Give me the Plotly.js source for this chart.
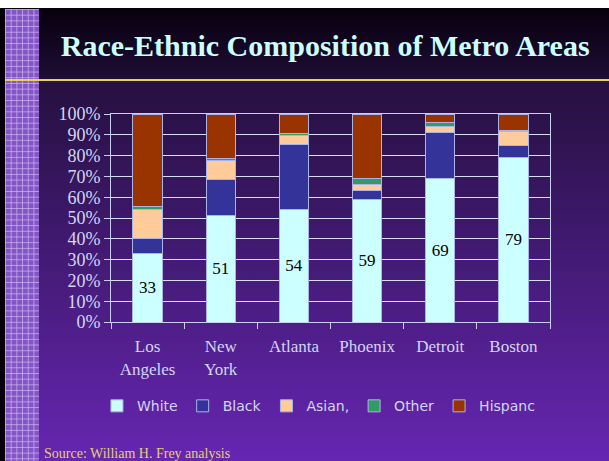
<!DOCTYPE html>
<html>
<head>
<meta charset="utf-8">
<script src="https://cdn.plot.ly/plotly-3.0.1.min.js"></script>
<style>
body { margin: 0; background: #fff; }
#slide { position: absolute; left: 0; top: 8px; width: 609px; height: 453px; background: #050008; }
#stripe { position: absolute; left: 5px; top: 9px; width: 34px; height: 452px;
  background-color: #8455c4;
  background-image: linear-gradient(to right, rgba(205,180,245,0.75) 1px, transparent 1px),
                    linear-gradient(to bottom, rgba(205,180,245,0.75) 1px, transparent 1px);
  background-size: 5.7px 5.7px; }
#head { position: absolute; left: 39px; top: 8px; width: 570px; height: 71px;
  background: linear-gradient(#07000d, #1f0d36); }
#rule { position: absolute; left: 5px; top: 79px; width: 604px; height: 1.5px; background: #e8d25a; }
#body { position: absolute; left: 39px; top: 81px; width: 570px; height: 380px;
  background: linear-gradient(#25103f, #6626b2); }
#chart { position: absolute; left: 0; top: 0; width: 609px; height: 461px; }
</style>
</head>
<body>
<div id="slide"></div>
<div id="head"></div>
<div id="body"></div>
<div id="stripe"></div>
<div id="rule"></div>
<div id="chart"></div>
<script>
// data (percent of metro population)
var cities = ['Los<br>Angeles', 'New<br>York', 'Atlanta', 'Phoenix', 'Detroit', 'Boston'];
var white = [33, 51, 54, 59, 69, 79];
var black = [7, 17.5, 31.5, 4, 22, 6];
var asian = [14, 9.3, 4, 3, 3, 6.5];
var other = [1.5, 0.8, 1, 3, 2, 0.7];
var hispanic = [44.5, 21.4, 9.5, 31, 4, 7.8];

var names = ['White', 'Black', 'Asian,', 'Other', 'Hispanc'];
var colors = ['#ccffff', '#333399', '#ffcc99', '#339966', '#993300'];
var series = [white, black, asian, other, hispanic];

var data = [];
series.forEach(function (vals, i) {
    var trace = {
        x: cities,
        y: vals,
        name: names[i],
        type: 'bar',
        marker: { color: colors[i], line: { color: '#aab4e6', width: 1 } },
        hoverinfo: 'none'
    };
    if (i === 0) {
        // white share printed inside the bar
        trace.text = vals;
        trace.texttemplate = '%{text}';
        trace.textposition = 'inside';
        trace.insidetextanchor = 'middle';
        trace.textangle = 0;
        trace.textfont = { family: 'Liberation Serif', size: 17, color: '#000' };
    }
    data.push(trace);
});

var lav = '#d2d6f4';

var layout = {
    width: 609,
    height: 461,
    margin: { l: 111, r: 59, t: 114, b: 139 },
    paper_bgcolor: 'rgba(0,0,0,0)',
    plot_bgcolor: 'rgba(0,0,0,0)',
    barmode: 'stack',
    bargap: 0.6,
    uniformtext: { minsize: 17, mode: 'show' },
    title: {
        text: '<b>Race-Ethnic Composition of Metro Areas</b>',
        font: { family: 'Liberation Serif', size: 30, color: '#ccffff' },
        x: 0.534, xanchor: 'center',
        y: 0.902, yanchor: 'middle', yref: 'container'
    },
    xaxis: {
        type: 'category',
        showgrid: false,
        showline: true, mirror: true, linecolor: '#c8d0f0', linewidth: 1,
        ticks: 'outside', tickson: 'boundaries', ticklen: 6, tickcolor: '#c8d0f0',
        ticklabelstandoff: 9,
        tickfont: { family: 'Liberation Serif', size: 17, color: lav }
    },
    yaxis: {
        range: [0, 100],
        dtick: 10,
        ticksuffix: '%',
        showgrid: true, gridcolor: '#d8dcf6', gridwidth: 1,
        zeroline: false,
        showline: true, mirror: true, linecolor: '#c8d0f0', linewidth: 1,
        ticks: 'outside', ticklen: 6, tickcolor: '#c8d0f0',
        tickfont: { family: 'Liberation Serif', size: 18, color: lav }
    },
    showlegend: true,
    legend: {
        orientation: 'h',
        traceorder: 'normal',
        x: -0.032, xanchor: 'left',
        y: -0.405, yanchor: 'middle',
        font: { family: 'DejaVu Sans', size: 14, color: lav },
        bgcolor: 'rgba(0,0,0,0)'
    },
    annotations: [{
        text: 'Source: William H. Frey analysis',
        xref: 'paper', yref: 'paper',
        x: -0.157, xanchor: 'left',
        y: -0.585, yanchor: 'top',
        showarrow: false,
        font: { family: 'Liberation Serif', size: 14, color: '#e6cf78' }
    }]
};

Plotly.newPlot('chart', data, layout, { displayModeBar: false, staticPlot: true });
</script>
</body>
</html>
